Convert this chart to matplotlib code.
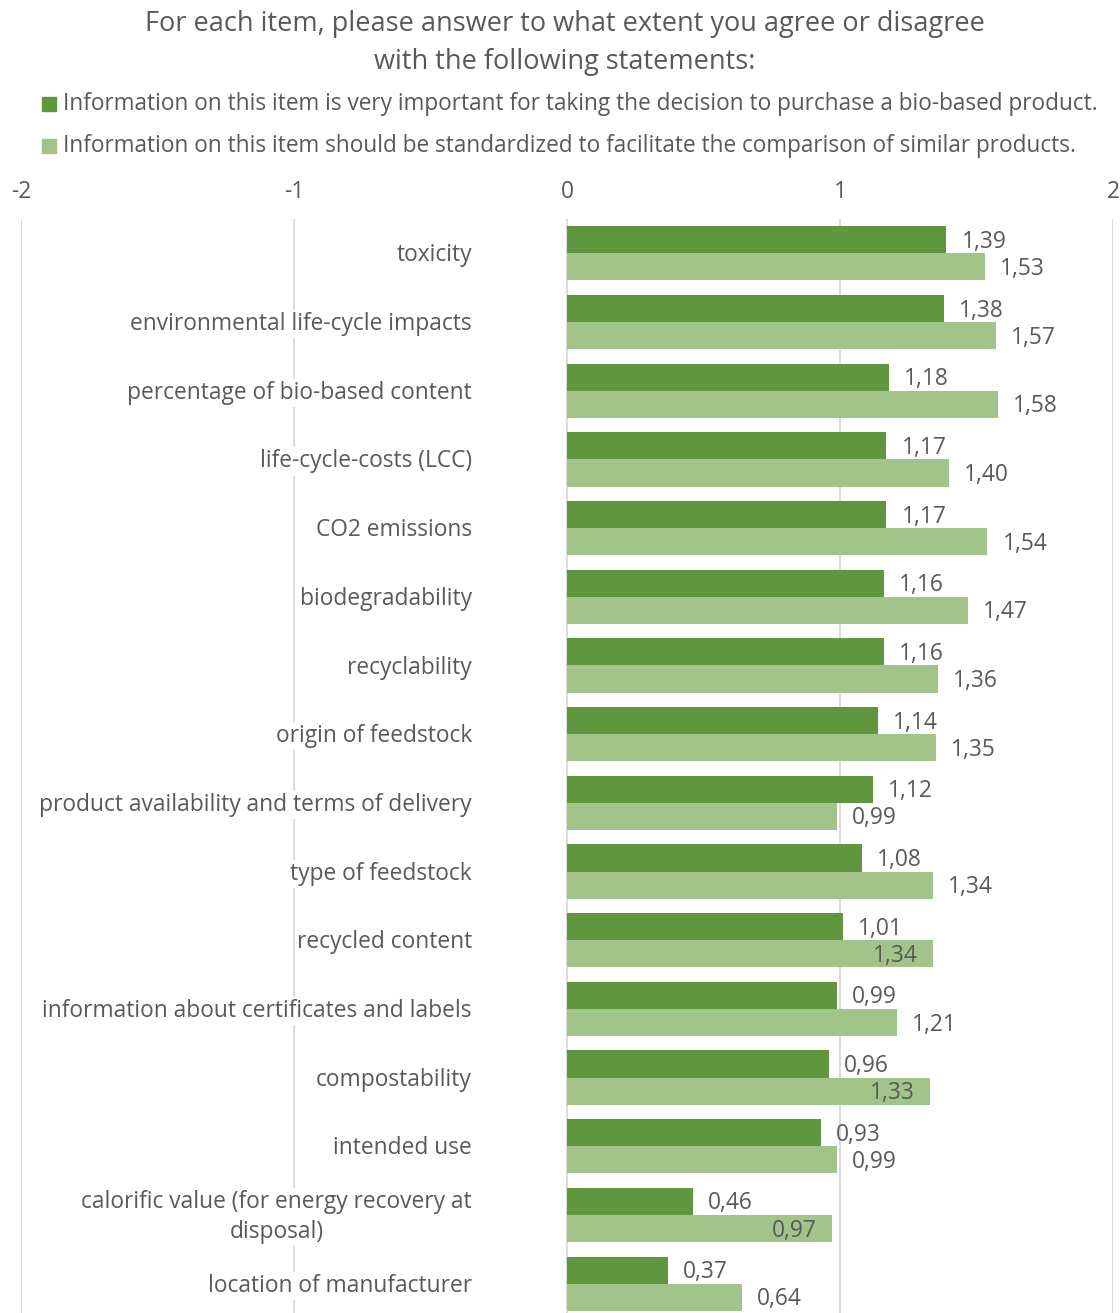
import matplotlib
matplotlib.use("Agg")
import matplotlib.pyplot as plt
import numpy as np

plt.rcParams['font.family'] = ['Open Sans', 'DejaVu Sans']

categories = [
    "toxicity",
    "environmental life-cycle impacts",
    "percentage of bio-based content",
    "life-cycle-costs (LCC)",
    "CO2 emissions",
    "biodegradability",
    "recyclability",
    "origin of feedstock",
    "product availability and terms of delivery",
    "type of feedstock",
    "recycled content",
    "information about certificates and labels",
    "compostability",
    "intended use",
    "calorific value (for energy recovery at\ndisposal)",
    "location of manufacturer",
]
important = [1.39, 1.38, 1.18, 1.17, 1.17, 1.16, 1.16, 1.14, 1.12, 1.08, 1.01, 0.99, 0.96, 0.93, 0.46, 0.37]
standardized = [1.53, 1.57, 1.58, 1.40, 1.54, 1.47, 1.36, 1.35, 0.99, 1.34, 1.34, 1.21, 1.33, 0.99, 0.97, 0.64]
series_names = [
    "Information on this item is very important for taking the decision to purchase a bio-based product.",
    "Information on this item should be standardized to facilitate the comparison of similar products.",
]
x_ticks = [-2, -1, 0, 1, 2]
title = "For each item, please answer to what extent you agree or disagree\nwith the following statements:"
# light-series labels that sit inside the bar end
inside_light = {"recycled content", "compostability",
                "calorific value (for energy recovery at\ndisposal)"}

DARK = "#5F963E"
LIGHT = "#A2C48B"
TEXT = "#595959"
GRID = "#D9D9D9"

W, H = 1120, 1313
fig = plt.figure(figsize=(W / 100, H / 100), dpi=100)

# axes spans px x 21..1113, y 219..1318 (from top)
left, right = 21 / W, 1113 / W
top, bottom = 219 / H, 1318 / H
ax = fig.add_axes([left, 1 - bottom, right - left, bottom - top])

n = len(categories)
y = np.arange(n)
bh = 0.395
ax.barh(y - bh / 2, important, height=bh, color=DARK, zorder=3)
ax.barh(y + bh / 2, standardized, height=bh, color=LIGHT, zorder=3)

fs = 16.4
ax.set_xlim(-2, 2)
ax.set_ylim(n - 0.5, -0.5)
ax.set_xticks(x_ticks)
ax.set_xticklabels([str(t) for t in x_ticks])
ax.xaxis.tick_top()
ax.tick_params(axis='x', length=0, pad=11, labelsize=fs, labelcolor=TEXT)
ax.set_yticks([])
for s in ax.spines.values():
    s.set_visible(False)
ax.grid(axis='x', color=GRID, linewidth=1.3, zorder=0)
ax.set_axisbelow(True)

off = 0.055
for i, cat in enumerate(categories):
    ax.text(-0.348, i + 0.03, cat, ha='right', va='center', multialignment='center',
            fontsize=fs, color=TEXT, zorder=4, linespacing=1.3,
            bbox=dict(facecolor='white', edgecolor='none', pad=1.5))
    ax.text(important[i] + off, i - bh / 2 + 0.03, f"{important[i]:.2f}".replace('.', ','),
            ha='left', va='center', fontsize=fs, color=TEXT, zorder=4)
    lab = f"{standardized[i]:.2f}".replace('.', ',')
    if cat in inside_light:
        ax.text(standardized[i] - off, i + bh / 2 + 0.03, lab, ha='right', va='center',
                fontsize=fs, color=TEXT, zorder=4)
    else:
        ax.text(standardized[i] + off, i + bh / 2 + 0.03, lab, ha='left', va='center',
                fontsize=fs, color=TEXT, zorder=4)

fig.text(565 / W, 1 - 43 / H, title, ha='center', va='center', fontsize=19.5,
         color=TEXT, linespacing=1.45)

for k, (name, col) in enumerate(zip(series_names, [DARK, LIGHT])):
    yy = 1 - (104 + 42 * k) / H
    fig.patches.append(plt.Rectangle((42 / W, yy - 7 / H), 14 / W, 14 / H,
                                     transform=fig.transFigure, color=col))
    fig.text(63 / W, yy, name, ha='left', va='center', fontsize=16.3, color=TEXT)

fig.savefig("out.png", dpi=100, facecolor='white')
